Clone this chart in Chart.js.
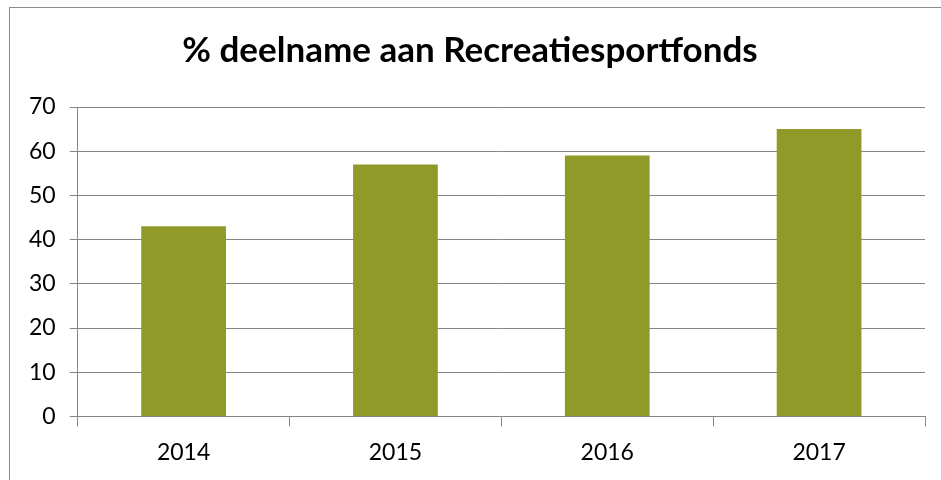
<!DOCTYPE html>
<html>
<head>
<meta charset="utf-8">
<script src="https://cdn.jsdelivr.net/npm/chart.js@4"></script>
<style>
  html, body { margin: 0; padding: 0; background: #fff; }
  #wrap { width: 941px; height: 480px; }
</style>
</head>
<body>
<div id="wrap"><canvas id="grafico" width="941" height="480"></canvas></div>
<script>
const jaren = ['2014', '2015', '2016', '2017'];
const deelname = [43, 57, 59, 65];
const yTicks = [0, 10, 20, 30, 40, 50, 60, 70];

// kader rond de grafiek
const kader = {
  id: 'kader',
  beforeDraw(chart) {
    const ctx = chart.ctx;
    ctx.save();
    ctx.strokeStyle = '#8c8c8c';
    ctx.lineWidth = 1;
    ctx.strokeRect(9.5, 7.5, 960, 500);
    ctx.restore();
  }
};

new Chart(document.getElementById('grafico'), {
  type: 'bar',
  data: {
    labels: jaren,
    datasets: [{
      label: '% deelname',
      data: deelname,
      backgroundColor: '#8f9a28',
      barPercentage: 0.4,
      categoryPercentage: 1
    }]
  },
  options: {
    responsive: false,
    animation: false,
    layout: { padding: { left: 15, right: 16, top: 12, bottom: 2 } },
    plugins: {
      legend: { display: false },
      tooltip: { enabled: false },
      title: {
        display: true,
        text: '% deelname aan Recreatiesportfonds',
        color: '#000',
        font: { family: 'Lato', size: 35, weight: 'bold' },
        padding: { top: 18, bottom: 35 }
      }
    },
    scales: {
      x: {
        grid: { display: true, drawOnChartArea: false, offset: true, tickLength: 10, color: '#868686' },
        border: { color: '#868686' },
        ticks: { color: '#000', font: { family: 'Lato', size: 23 }, padding: 12 }
      },
      y: {
        min: 0,
        max: 70,
        afterBuildTicks(axis) { axis.ticks = yTicks.map(v => ({ value: v })); },
        grid: { color: '#868686', tickLength: 8 },
        border: { color: '#868686' },
        ticks: { color: '#000', font: { family: 'Lato', size: 23 }, padding: 14 }
      }
    }
  },
  plugins: [kader]
});
</script>
</body>
</html>
